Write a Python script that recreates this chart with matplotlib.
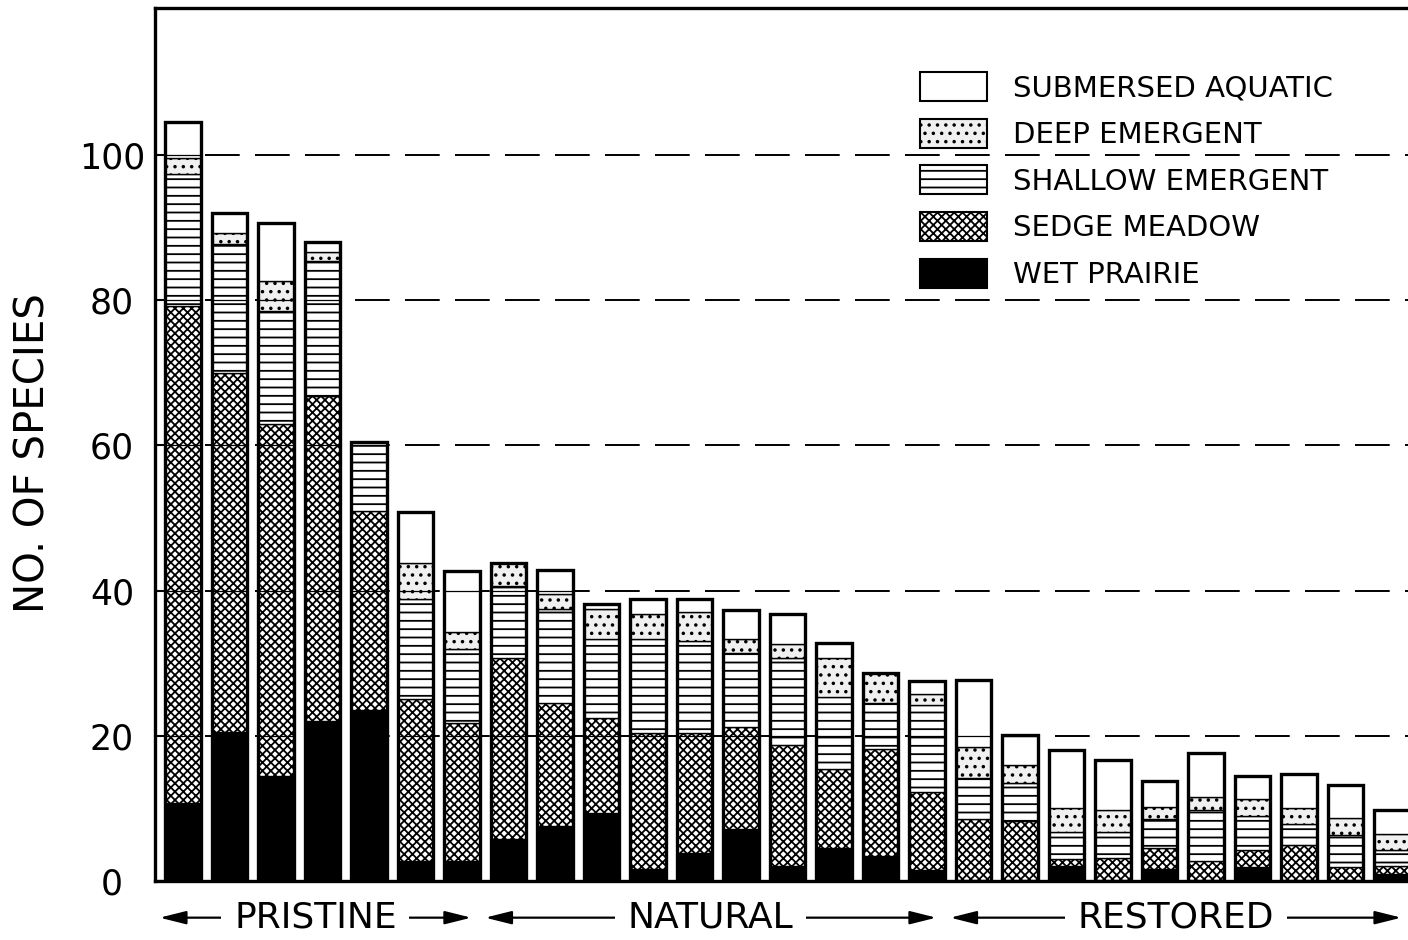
import matplotlib
matplotlib.use("Agg")
import matplotlib.pyplot as plt
from matplotlib.patches import Patch
import numpy as np

# ---- data (number of species per wetland, by guild) ----
wet_prairie = [10.8, 20.5, 14.5, 22.0, 23.5, 2.8, 2.8, 5.8, 7.6, 9.3, 1.6, 3.9, 7.1, 2.1, 4.6, 3.4, 1.5,
               0.0, 0.0, 2.0, 0.0, 1.6, 0.0, 1.9, 0.0, 0.0, 0.9]
sedge_meadow = [68.4, 49.5, 48.5, 44.8, 27.5, 22.3, 19.0, 24.9, 16.9, 13.1, 18.8, 16.5, 14.1, 16.6, 10.8, 14.8, 10.8,
                8.6, 8.3, 1.0, 3.1, 3.0, 2.8, 2.4, 5.0, 1.9, 1.2]
shallow_emergent = [18.2, 17.7, 15.5, 18.6, 9.5, 13.7, 10.1, 10.0, 12.9, 11.0, 13.0, 12.7, 10.2, 12.0, 9.9, 6.3, 11.9,
                    5.6, 5.2, 3.8, 3.7, 4.0, 7.0, 4.7, 2.9, 4.5, 2.2]
deep_emergent = [2.2, 1.6, 4.2, 1.2, 0.0, 5.0, 2.4, 3.1, 2.1, 4.0, 3.4, 4.0, 2.0, 1.9, 5.4, 4.1, 1.5,
                 4.2, 2.5, 3.3, 3.0, 1.6, 1.8, 2.3, 2.2, 2.3, 2.2]
submersed_aquatic = [4.9, 2.7, 8.0, 1.4, 0.0, 7.0, 8.4, 0.0, 3.3, 0.8, 2.0, 1.7, 3.9, 4.2, 2.1, 0.0, 1.9,
                     9.3, 4.1, 8.0, 6.8, 3.6, 6.0, 3.2, 4.6, 4.5, 3.3]

series_labels = ["WET PRAIRIE", "SEDGE MEADOW", "SHALLOW EMERGENT", "DEEP EMERGENT", "SUBMERSED AQUATIC"]
group_names = ["PRISTINE", "NATURAL", "RESTORED"]
group_sizes = [7, 10, 10]
yticks = [0, 20, 40, 60, 80, 100]
ylabel = "NO. OF SPECIES"

# ---- styling ----
plt.rcParams["hatch.linewidth"] = 1.3
plt.rcParams["lines.scale_dashes"] = False
plt.rcParams["font.family"] = ["DejaVu Sans"]

styles = [
    dict(facecolor="black", hatch=None),
    dict(facecolor="white", hatch="xxxx"),
    dict(facecolor="white", hatch="--"),
    dict(facecolor="#f0f0f0", hatch=".."),
    dict(facecolor="white", hatch=None),
]

W, H = 1408, 940
fig = plt.figure(figsize=(W / 100, H / 100), dpi=100)
ax = fig.add_axes([155 / W, 59 / H, 1283.5 / W, 873 / H])

series = [wet_prairie, sedge_meadow, shallow_emergent, deep_emergent, submersed_aquatic]
n = len(wet_prairie)
x = np.arange(n)
bw = 0.77

bottom = np.zeros(n)
for vals, st in zip(series, styles):
    v = np.array(vals)
    ax.bar(x, v, bw, bottom=bottom, color=st["facecolor"], edgecolor="black",
           linewidth=1.0, hatch=st["hatch"], zorder=2)
    bottom = bottom + v
totals = bottom

# thick outline around each bar
ax.bar(x, totals, bw, fill=False, edgecolor="black", linewidth=2.4, zorder=4)

# dashed gridlines (between bars), thin solid across bars
for g in yticks[1:]:
    ax.axhline(g, color="black", linewidth=1.4, linestyle=(0, (25, 11)), zorder=1)
    inside = totals > g
    ax.hlines(np.full(inside.sum(), g), x[inside] - bw / 2, x[inside] + bw / 2,
              color="black", linewidth=0.9, zorder=3)

ax.set_xlim(-0.6, 27.0)
ax.set_ylim(0, 120.25)
ax.set_xticks([])
ax.set_yticks(yticks)
ax.set_yticklabels([str(t) for t in yticks], fontsize=25, ha="center")
ax.tick_params(axis="y", direction="in", length=6, width=1.5, pad=31)
for s in ["left", "top", "bottom"]:
    ax.spines[s].set_linewidth(2.4)
ax.spines["right"].set_visible(False)

ax.set_ylabel(ylabel, fontsize=29)
ax.yaxis.set_label_coords(-0.079, 0.49)

# legend
handles = [Patch(facecolor=st["facecolor"], edgecolor="black", hatch=st["hatch"], linewidth=1.5)
           for st in styles][::-1]
leg = ax.legend(handles, series_labels[::-1], loc="upper left", bbox_to_anchor=(0.596, 0.9267),
                frameon=False, fontsize=21, handlelength=2.3, handleheight=1.15,
                labelspacing=0.56, handletextpad=0.9, borderpad=0, borderaxespad=0)
leg.set_zorder(6)

# group arrows below the axis
trans = ax.get_xaxis_transform()
start = 0
for name, size in zip(group_names, group_sizes):
    x0 = start - 0.5
    x1 = start + size - 1 + 0.2
    ax.annotate("", xy=(x1, -0.042), xytext=(x0, -0.042), xycoords=trans, textcoords=trans,
                annotation_clip=False,
                arrowprops=dict(arrowstyle="<|-|>,head_length=0.8,head_width=0.2",
                                color="black", lw=1.6, mutation_scale=20, shrinkA=0, shrinkB=0))
    ax.text((x0 + x1) / 2, -0.042, name, transform=trans, ha="center", va="center",
            fontsize=26, clip_on=False,
            bbox=dict(boxstyle="square,pad=0.35", fc="white", ec="none"), zorder=7)
    start += size

fig.savefig("out.png", dpi=100)
